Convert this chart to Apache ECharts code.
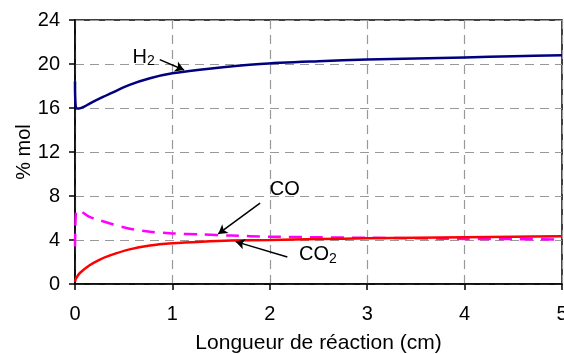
<!DOCTYPE html>
<html>
<head>
<meta charset="utf-8">
<script src="https://cdn.jsdelivr.net/npm/echarts@6/dist/echarts.min.js"></script>
<style>
  html, body { margin: 0; padding: 0; background: #fff; }
  #chart { width: 564px; height: 354px; }
</style>
</head>
<body>
<div id="chart"></div>
<script>
// Reaction length (cm) and mole fractions (% mol)
const h2X  = [0, 0.01, 0.04, 0.1, 0.15, 0.25, 0.36, 0.56, 0.77, 1.0, 1.4, 1.9, 2.5, 3.0, 3.5, 4.0, 4.5, 5.0];
const h2Y  = [18.4, 16.0, 15.95, 16.15, 16.4, 16.85, 17.3, 18.1, 18.7, 19.15, 19.6, 20.0, 20.25, 20.4, 20.5, 20.6, 20.7, 20.8];

const coX  = [0, 0.01, 0.03, 0.08, 0.15, 0.25, 0.36, 0.55, 0.77, 1.0, 1.3, 1.6, 2.0, 2.5, 3.0, 3.5, 4.0, 4.5, 5.0];
const coY  = [3.4, 6.5, 6.7, 6.5, 6.1, 5.8, 5.5, 5.05, 4.75, 4.6, 4.5, 4.4, 4.3, 4.25, 4.2, 4.15, 4.1, 4.08, 4.05];

const co2X = [0, 0.01, 0.05, 0.15, 0.25, 0.36, 0.56, 0.77, 1.0, 1.3, 1.6, 2.0, 2.5, 3.0, 3.5, 4.0, 4.5, 5.0];
const co2Y = [0.2, 0.5, 1.0, 1.7, 2.2, 2.6, 3.15, 3.5, 3.7, 3.85, 3.95, 4.0, 4.08, 4.15, 4.2, 4.25, 4.3, 4.34];

const xTicks = [0, 1, 2, 3, 4, 5];
const yTicks = [0, 4, 8, 12, 16, 20, 24];

// Labels with arrows, in data coordinates: [text left edge, arrow start, arrow end]
const notes = [
  { main: 'H',  sub: '2', at: [0.59, 20.6], from: [0.87, 20.4], to: [1.12, 19.45] },
  { main: 'CO', sub: '',  at: [2.00, 8.55], from: [1.90, 7.36], to: [1.47, 4.55] },
  { main: 'CO', sub: '2', at: [2.30, 2.64], from: [2.18, 2.45], to: [1.65, 3.85] }
];

const FONT = '"Liberation Sans", Arial, sans-serif';
const FS = 20;
const pairs = (xs, ys) => xs.map((x, i) => [x, ys[i]]);

const chart = echarts.init(document.getElementById('chart'), null, { renderer: 'canvas' });

const option = {
  animation: false,
  backgroundColor: '#fff',
  grid: {
    left: 75, right: 2, top: 20, bottom: 70,
    outerBoundsMode: 'none', containLabel: false,
    show: true, borderColor: '#000', borderWidth: 1.5, backgroundColor: 'transparent'
  },
  xAxis: {
    type: 'value', min: xTicks[0], max: xTicks[xTicks.length - 1], interval: 1,
    name: 'Longueur de réaction (cm)', nameLocation: 'middle', nameGap: 49,
    nameMoveOverlap: false,
    nameTextStyle: { fontFamily: FONT, fontSize: 21, color: '#000' },
    axisLine: { lineStyle: { color: '#000', width: 1.5 } },
    axisTick: { show: true, length: 6, lineStyle: { color: '#000', width: 1.5 } },
    axisLabel: { fontFamily: FONT, fontSize: FS, color: '#000', margin: 20 },
    splitLine: { show: true, lineStyle: { color: '#999', type: [9, 6], width: 1.2 } }
  },
  yAxis: {
    type: 'value', min: yTicks[0], max: yTicks[yTicks.length - 1], interval: 4,
    name: '% mol', nameLocation: 'middle', nameGap: 41,
    nameMoveOverlap: false,
    nameTextStyle: { fontFamily: FONT, fontSize: FS, color: '#000' },
    axisLine: { show: true, lineStyle: { color: '#000', width: 1.5 } },
    axisTick: { show: true, length: 6, lineStyle: { color: '#000', width: 1.5 } },
    axisLabel: { fontFamily: FONT, fontSize: FS, color: '#000', margin: 15 },
    splitLine: { show: true, lineStyle: { color: '#999', type: [9, 6], width: 1.2 } }
  },
  series: [
    {
      name: 'H2', type: 'line', data: pairs(h2X, h2Y), smooth: 0.3, showSymbol: false,
      lineStyle: { color: '#000080', width: 2.5 }, z: 3
    },
    {
      name: 'CO', type: 'line', data: pairs(coX, coY), smooth: 0.3, showSymbol: false,
      lineStyle: { color: '#FF00FF', width: 2.5, type: [13, 8] }, z: 2
    },
    {
      name: 'CO2', type: 'line', data: pairs(co2X, co2Y), smooth: 0.3, showSymbol: false,
      lineStyle: { color: '#FF0000', width: 2.5 }, z: 4
    },
    {
      // arrows pointing from labels to curves
      name: 'arrows', type: 'line', data: [], silent: true,
      markLine: {
        silent: true, animation: false,
        symbol: ['none', 'arrow'], symbolSize: [8, 9],
        lineStyle: { color: '#000', width: 1.5, type: 'solid' },
        label: { show: false },
        data: notes.map(n => [{ coord: n.from }, { coord: n.to }])
      }
    }
  ]
};
chart.setOption(option);

// Text labels placed at data coordinates
const graphics = notes.map(n => {
  const p = chart.convertToPixel({ gridIndex: 0 }, n.at);
  return {
    type: 'text', x: p[0], y: p[1], z: 10,
    style: {
      text: n.sub ? '{m|' + n.main + '}{s|' + n.sub + '}' : '{m|' + n.main + '}',
      align: 'left', verticalAlign: 'middle',
      rich: {
        m: { fontFamily: FONT, fontSize: FS, fill: '#000', lineHeight: 22 },
        s: { fontFamily: FONT, fontSize: 14, fill: '#000', lineHeight: 22, verticalAlign: 'bottom', padding: [12, 0, 0, 0] }
      }
    }
  };
});
chart.setOption({ graphic: graphics });
</script>
</body>
</html>
